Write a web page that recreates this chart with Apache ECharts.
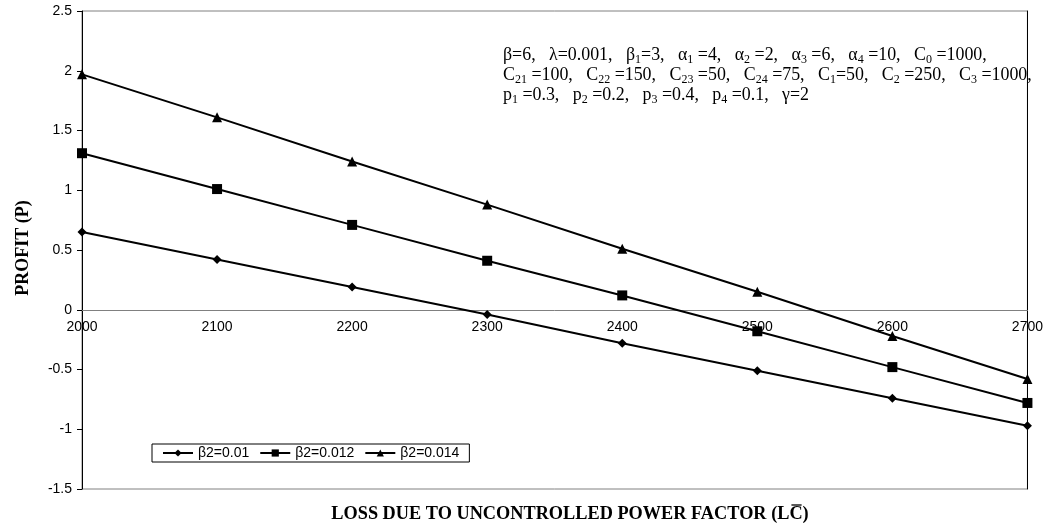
<!DOCTYPE html>
<html>
<head>
<meta charset="utf-8">
<script src="https://cdn.jsdelivr.net/npm/echarts@6/dist/echarts.min.js"></script>
<style>html,body{margin:0;padding:0;background:#fff}#c{width:1046px;height:526px}</style>
</head>
<body>
<div id="c"></div>
<script>
var xValues = [2000, 2100, 2200, 2300, 2400, 2500, 2600, 2700];
var seriesNames = ['β2=0.01', 'β2=0.012', 'β2=0.014'];
var beta001 = [0.65, 0.42, 0.19, -0.04, -0.28, -0.51, -0.74, -0.97];
var beta0012 = [1.31, 1.01, 0.71, 0.41, 0.12, -0.18, -0.48, -0.78];
var beta0014 = [1.97, 1.61, 1.24, 0.88, 0.51, 0.15, -0.22, -0.58];
var yTicks = [-1.5, -1, -0.5, 0, 0.5, 1, 1.5, 2, 2.5];

function pairs(ys){ return xValues.map(function(x,i){ return [x, ys[i]]; }); }

var chart = echarts.init(document.getElementById('c'), null, {renderer:'canvas'});
var serif = 'Liberation Serif';
var sans = 'Liberation Sans';
var gridTop = 11, gridBottom = 37, H = 526;
var yMin = yTicks[0], yMax = yTicks[yTicks.length-1];
var plotH = H - gridTop - gridBottom;
var zeroOffset = -plotH * (0 - yMin) / (yMax - yMin);

var rich = {
  n: {fontFamily: serif, fontSize: 17.9, color:'#000', lineHeight: 20},
  s: {fontFamily: serif, fontSize: 12, color:'#000', lineHeight: 11, padding:[9,0,0,0]}
};
var ann = [
 '{n|β=6,   λ=0.001,   β}{s|1}{n|=3,   α}{s|1}{n| =4,   α}{s|2}{n| =2,   α}{s|3}{n| =6,   α}{s|4}{n| =10,   C}{s|0}{n| =1000,}',
 '{n|C}{s|21}{n| =100,   C}{s|22}{n| =150,   C}{s|23}{n| =50,   C}{s|24}{n| =75,   C}{s|1}{n|=50,   C}{s|2}{n| =250,   C}{s|3}{n| =1000,}',
 '{n|p}{s|1}{n| =0.3,   p}{s|2}{n| =0.2,   p}{s|3}{n| =0.4,   p}{s|4}{n| =0.1,   γ=2}'
].join('\n');

// x-axis title with overline on C
var titleFont = 'bold 18.3px "Liberation Serif"';
var titlePre = 'LOSS DUE TO UNCONTROLLED POWER FACTOR (L';
var titleFull = titlePre + 'C)';
var ctx = document.createElement('canvas').getContext('2d');
ctx.font = titleFont;
var wFull = ctx.measureText(titleFull).width;
var wPre = ctx.measureText(titlePre).width;
var wC = ctx.measureText('C').width;
var titleCx = 570, titleCy = 514;
var titleLeft = titleCx - wFull/2;

function mkSeries(name, ys, sym, size){
  return {
    name: name, type:'line', data: pairs(ys), symbol: sym, symbolSize: size,
    color:'#000', lineStyle:{color:'#000', width:2}, itemStyle:{color:'#000'},
    showAllSymbol:true, animation:false, z:3
  };
}

chart.setOption({
  animation:false,
  backgroundColor:'#fff',
  grid:{left:82, right:15, top:gridTop, bottom:gridBottom, show:true, borderColor:'#808080', borderWidth:1},
  xAxis:{
    type:'value', min:2000, max:2700, interval:100, position:'bottom', offset: zeroOffset,
    axisLine:{onZero:false, lineStyle:{color:'#808080', width:1}},
    axisTick:{show:false},
    splitLine:{show:false},
    axisLabel:{fontFamily:sans, fontSize:14, color:'#000', margin:10, formatter:function(v){return String(v);}}
  },
  yAxis:[{
    type:'value', min:yMin, max:yMax, interval:0.5,
    axisLine:{show:true, onZero:false, lineStyle:{color:'#000', width:1}},
    axisTick:{show:true, length:5, lineStyle:{color:'#000'}},
    splitLine:{show:false},
    axisLabel:{fontFamily:sans, fontSize:14, color:'#000', margin:10}
  },{
    type:'value', min:yMin, max:yMax, interval:0.5, position:'right',
    axisLine:{show:true, onZero:false, lineStyle:{color:'#000', width:1}},
    axisTick:{show:false}, axisLabel:{show:false}, splitLine:{show:false}
  }],
  legend:{
    left:152, top:444, orient:'horizontal',
    padding:[2,10,2,10], borderColor:'#000', borderWidth:1, itemGap:10,
    itemWidth:30, itemHeight:9,
    textStyle:{fontFamily:sans, fontSize:14, color:'#000'},
    data: seriesNames
  },
  series:[
    mkSeries(seriesNames[0], beta001, 'diamond', 9),
    mkSeries(seriesNames[1], beta0012, 'rect', 10),
    mkSeries(seriesNames[2], beta0014, 'triangle', 10)
  ],
  graphic:[
    {type:'text', left:503, top:45, z:10, style:{text:ann, rich:rich, fill:'#000'}},
    {type:'text', x:23, y:248, rotation:Math.PI/2, style:{text:'PROFIT (P)', font:'bold 18px "Liberation Serif"', fill:'#000', textAlign:'center', textVerticalAlign:'middle'}},
    {type:'text', x:titleLeft, y:titleCy, style:{text:titleFull, font:titleFont, fill:'#000', textAlign:'left', textVerticalAlign:'middle'}},
    {type:'line', shape:{x1:titleLeft + wPre + 2, y1:titleCy - 9, x2:titleLeft + wPre + wC - 1, y2:titleCy - 9}, style:{stroke:'#000', lineWidth:1.3}}
  ]
});
</script>
</body>
</html>
